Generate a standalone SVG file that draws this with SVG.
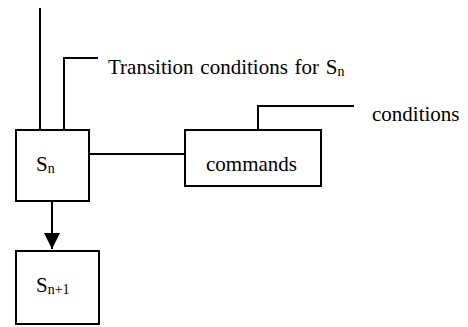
<svg xmlns="http://www.w3.org/2000/svg" width="468" height="327" viewBox="0 0 468 327">
  <style>
    .box { fill: #ffffff; stroke: #000000; stroke-width: 2; }
    .wire { fill: none; stroke: #000000; stroke-width: 2; }
    .lbl { font-family: "Liberation Serif", "Times New Roman", serif; font-size: 21px; fill: #000000; }
    .sub { font-size: 14px; }
  </style>
  <defs>
    <marker id="arrow" markerWidth="8" markerHeight="8" refX="8" refY="4" orient="auto" markerUnits="strokeWidth">
      <path d="M0,0 L8,4 L0,8 Z" fill="#000000"/>
    </marker>
  </defs>
  <rect width="468" height="327" fill="#ffffff"/>

  <g id="connectors">
    <!-- incoming line into S_n -->
    <path class="wire" d="M40,8 V130"/>
    <!-- transition condition line -->
    <path class="wire" d="M64,130 V58 H98"/>
    <!-- S_n to commands -->
    <path class="wire" d="M89,154 H185"/>
    <!-- commands condition line -->
    <path class="wire" d="M258,130 V106 H354"/>
    <!-- S_n to S_n+1 -->
    <path class="wire" d="M52,202 V249" marker-end="url(#arrow)"/>
  </g>

  <g id="transition-label">
    <text class="lbl" x="108" y="74" word-spacing="1.5">Transition conditions for S<tspan class="sub" dy="2">n</tspan></text>
  </g>

  <g id="conditions-label">
    <text class="lbl" x="372" y="121">conditions</text>
  </g>

  <g id="state-n">
    <rect class="box" x="16" y="130" width="73" height="71"/>
    <text class="lbl" x="36" y="171">S<tspan class="sub" dy="2">n</tspan></text>
  </g>

  <g id="commands">
    <rect class="box" x="185" y="130" width="136" height="56"/>
    <text class="lbl" x="206" y="171">commands</text>
  </g>

  <g id="state-n1">
    <rect class="box" x="16" y="251" width="83" height="73"/>
    <text class="lbl" x="36" y="292">S<tspan class="sub" dy="2">n+1</tspan></text>
  </g>
</svg>
